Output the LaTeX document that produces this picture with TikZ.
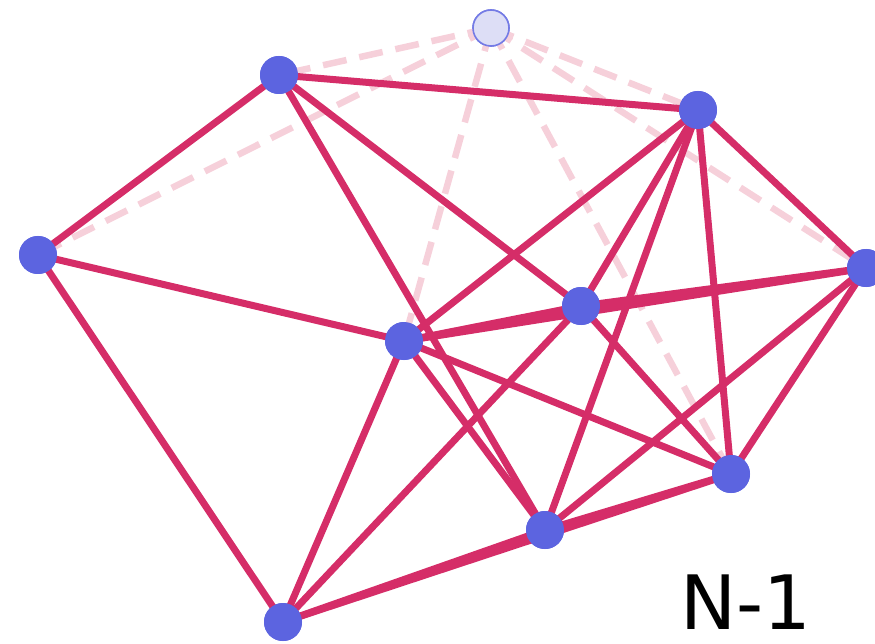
\documentclass[tikz,border=0pt]{standalone}
\usepackage{fontspec}
\setsansfont{DejaVu Sans}
\definecolor{edgecol}{HTML}{D52D68}
\definecolor{ghostcol}{HTML}{F6D0DA}
\definecolor{vertcol}{HTML}{5C64E0}
\definecolor{ghostfill}{HTML}{DDDEF6}
\begin{document}
\begin{tikzpicture}[x=1pt,y=-1pt,
  vert/.style={circle,fill=vertcol,draw=none,minimum size=38pt,inner sep=0pt},
  ghost/.style={circle,fill=ghostfill,draw=vertcol!85,line width=1.6pt,minimum size=36pt,inner sep=0pt},
  link/.style={draw=edgecol,line width=7pt,line cap=round},
  ghostlink/.style={draw=ghostcol,line width=6.5pt,dash pattern=on 24pt off 13pt}]
\useasboundingbox (0,0) rectangle (875,644);
% vertices
\node[ghost] (t) at (491,28) {};
\node[vert] (a) at (279,75) {};
\node[vert] (b) at (698,110) {};
\node[vert] (c) at (38,255) {};
\node[vert] (d) at (866,268) {};
\node[vert] (e) at (581,306) {};
\node[vert] (f) at (404,341) {};
\node[vert] (g) at (731,474) {};
\node[vert] (h) at (545,530) {};
\node[vert] (i) at (283,622) {};
% links of the removed vertex
\foreach \v in {a,b,c,d,f,g}
  \path[ghostlink] (t.center) -- (\v.center);
% remaining links
\foreach \u/\v in {a/b,a/c,a/e,a/h,
                   b/d,b/f,b/e,b/h,b/g,
                   c/f,c/i,
                   d/e,d/f,d/h,d/g,
                   e/f,e/g,e/i,
                   f/h,f/g,f/i,
                   g/h,g/i,h/i}
  \path[link] (\u.center) -- (\v.center);
% redraw vertices on top
\node[ghost] at (t) {};
\foreach \v in {a,b,c,d,e,f,g,h,i}
  \node[vert] at (\v) {};
\node[font=\sffamily\fontsize{75}{75}\selectfont,text=black,inner sep=0pt,anchor=base] (lbl) at (746,629) {N-1};
\end{tikzpicture}
\end{document}
